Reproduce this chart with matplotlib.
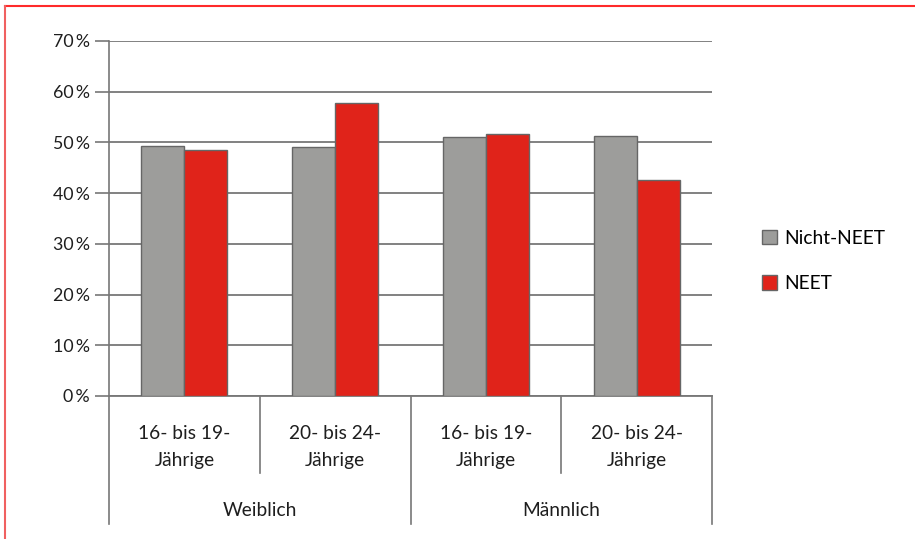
import matplotlib
matplotlib.use("Agg")
import matplotlib.pyplot as plt
from matplotlib.lines import Line2D
from matplotlib.patches import Patch
import matplotlib.transforms as mtransforms

categories = ["16- bis 19-\nJährige", "20- bis 24-\nJährige", "16- bis 19-\nJährige", "20- bis 24-\nJährige"]
groups = ["Weiblich", "Männlich"]
nicht_neet = [49.2, 49.0, 51.1, 51.3]
neet = [48.6, 57.8, 51.7, 42.5]
series_names = ["Nicht-NEET", "NEET"]
yticks = [0, 10, 20, 30, 40, 50, 60, 70]

plt.rcParams['font.family'] = ['Lato', 'DejaVu Sans']
W, H = 915, 539
fig = plt.figure(figsize=(W / 100, H / 100), dpi=100)
ax = fig.add_axes([109 / W, 143 / H, (712 - 109) / W, (396 - 41) / H])

gray = "#9d9d9b"
red = "#e0231a"
edge = "#666666"
linec = "#777777"
txt = "#1e1e1e"
fs = 13.8
bw = 0.285
x = list(range(len(categories)))
ax.bar([i - bw / 2 for i in x], nicht_neet, width=bw, color=gray, edgecolor=edge, linewidth=1, zorder=3)
ax.bar([i + bw / 2 for i in x], neet, width=bw, color=red, edgecolor=edge, linewidth=1, zorder=3)

ax.set_xlim(-0.5, 3.5)
ax.set_ylim(0, 70)
ax.set_yticks(yticks)
ax.set_yticklabels([f"{v}\u2009%" for v in yticks], fontsize=12.8, color=txt)
ax.tick_params(axis='y', length=10, width=1.2, color=linec, pad=4)
ax.set_xticks([])
ax.grid(axis='y', color=linec, linewidth=1.3, zorder=0)
for s in ["top", "right"]:
    ax.spines[s].set_visible(False)
ax.spines["left"].set_color(linec)
ax.spines["left"].set_linewidth(1.2)
ax.spines["bottom"].set_color(linec)
ax.spines["bottom"].set_linewidth(1.3)

trans = mtransforms.blended_transform_factory(ax.transData, ax.transAxes)
ah = 355.0
def ya(py):
    return (396 - py) / ah

for xs, yb in [(-0.5, 524), (0.5, 473), (1.5, 524), (2.5, 473), (3.5, 524)]:
    ax.add_line(Line2D([xs, xs], [0, ya(yb)], transform=trans, color=linec, linewidth=1.2, clip_on=False))

for i, c in enumerate(categories):
    ax.text(i, ya(447), c, transform=trans, ha="center", va="center", fontsize=fs,
            linespacing=1.65, color=txt)
for g, gname in enumerate(groups):
    ax.text(0.5 + 2 * g, ya(510), gname, transform=trans, ha="center", va="center",
            fontsize=fs, color=txt)

handles = [Patch(facecolor=gray, edgecolor=edge, linewidth=1),
           Patch(facecolor=red, edgecolor=edge, linewidth=1)]
fig.legend(handles, series_names, loc="center left", bbox_to_anchor=(745 / W, 1 - 261 / H),
           frameon=False, fontsize=fs, handlelength=0.78, handleheight=0.78,
           handletextpad=0.35, labelspacing=1.5)

fig.add_artist(Line2D([5 / W, 1], [1 - 6 / H, 1 - 6 / H], transform=fig.transFigure, color="#ff2a2a", linewidth=1.5))
fig.add_artist(Line2D([5 / W, 5 / W], [0, 1 - 6 / H], transform=fig.transFigure, color="#f06060", linewidth=1.5))

fig.savefig("out.png", dpi=100)
